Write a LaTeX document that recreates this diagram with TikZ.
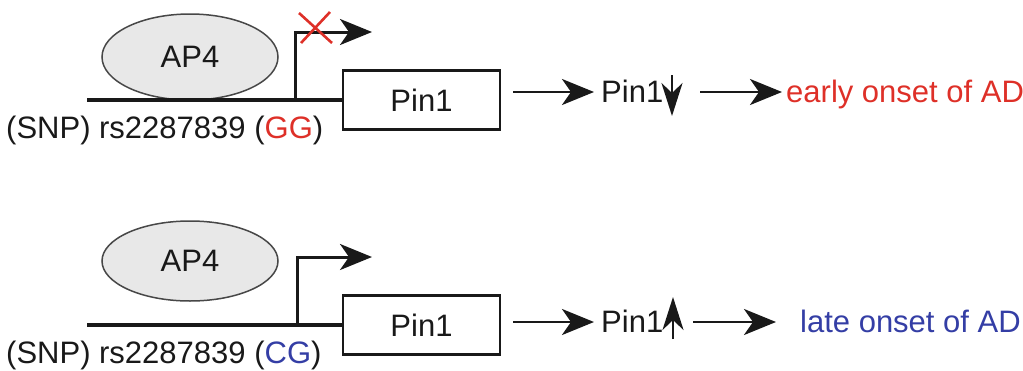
\documentclass[tikz,border=0pt]{standalone}
\usepackage{fontspec}
\setmainfont{Liberation Sans}
\usetikzlibrary{shapes.geometric,arrows.meta}
\definecolor{myred}{RGB}{222,48,40}
\definecolor{myblue}{RGB}{52,62,165}
\definecolor{ink}{RGB}{25,25,25}
\begin{document}
\begin{tikzpicture}[x=1pt,y=-1pt,
  txt/.style={font=\fontsize{31}{37}\selectfont, inner sep=0pt, text=ink},
  prot/.style={ellipse, draw=ink!80, line width=1.5pt, fill=black!9,
    minimum width=176pt, minimum height=86pt, inner sep=0pt,
    font=\fontsize{31}{37}\selectfont, text=ink},
  gene/.style={rectangle, draw=ink, line width=2.4pt, minimum width=157pt,
    minimum height=59pt, inner sep=0pt, font=\fontsize{31}{37}\selectfont, text=ink},
  dna/.style={draw=ink, line width=3.2pt},
  tss/.style={draw=ink, line width=3pt, -{Stealth[length=32pt,width=26pt,inset=9pt]}},
  arr/.style={draw=ink, line width=2.8pt, -{Stealth[length=32pt,width=26pt,inset=9pt]}},
  varr/.style={draw=ink, line width=2.4pt, -{Stealth[length=33pt,width=21pt,inset=10pt]}},
  cross/.style={draw=myred, line width=2.6pt}
]
\useasboundingbox (0,0) rectangle (1023,370);

% ---------- top row ----------
\node[prot] (p1) at (190,57) {AP4};
\node[gene] (g1) at (421.5,100) {Pin1};
\coordinate (d1s) at (87,100);
\coordinate (t1b) at (295,100);
\coordinate (t1t) at (295,32);
\coordinate (t1e) at (372,32);
\draw[dna] (d1s) -- (g1.west);
\draw[tss] (t1b) -- (t1t) -- (t1e);
\coordinate (x1a) at (299,13);
\coordinate (x1b) at (332,43);
\coordinate (x1c) at (301,43);
\coordinate (x1d) at (330,12);
\draw[cross] (x1a) -- (x1b);
\draw[cross] (x1c) -- (x1d);
\node[txt, anchor=base west] (l1) at (6,138) {(SNP) rs2287839 (\textcolor{myred}{GG})};
\node[txt, anchor=base west] (q1) at (601,102) {Pin1};
\coordinate (a1s) at (513,92);
\coordinate (a1e) at (594,92);
\draw[arr] (a1s) -- (a1e);
\coordinate (v1s) at (672,75);
\coordinate (v1e) at (672,116);
\draw[varr] (v1s) -- (v1e);
\coordinate (b1s) at (700,92);
\coordinate (b1e) at (782,92);
\draw[arr] (b1s) -- (b1e);
\node[txt, anchor=base west, text=myred] (o1) at (786,102) {early onset of AD};

% ---------- bottom row ----------
\node[prot, minimum height=80pt] (p2) at (190,261) {AP4};
\node[gene] (g2) at (421.5,325) {Pin1};
\coordinate (d2s) at (87,325);
\coordinate (t2b) at (297,325);
\coordinate (t2t) at (297,257);
\coordinate (t2e) at (372,257);
\draw[dna] (d2s) -- (g2.west);
\draw[tss] (t2b) -- (t2t) -- (t2e);
\node[txt, anchor=base west] (l2) at (6,363) {(SNP) rs2287839 (\textcolor{myblue}{CG})};
\node[txt, anchor=base west] (q2) at (601,332) {Pin1};
\coordinate (a2s) at (513,322);
\coordinate (a2e) at (594,322);
\draw[arr] (a2s) -- (a2e);
\coordinate (v2s) at (673,339);
\coordinate (v2e) at (673,297);
\draw[varr] (v2s) -- (v2e);
\coordinate (b2s) at (693,322);
\coordinate (b2e) at (776,322);
\draw[arr] (b2s) -- (b2e);
\node[txt, anchor=base west, text=myblue] (o2) at (800,332) {late onset of AD};
\end{tikzpicture}
\end{document}
